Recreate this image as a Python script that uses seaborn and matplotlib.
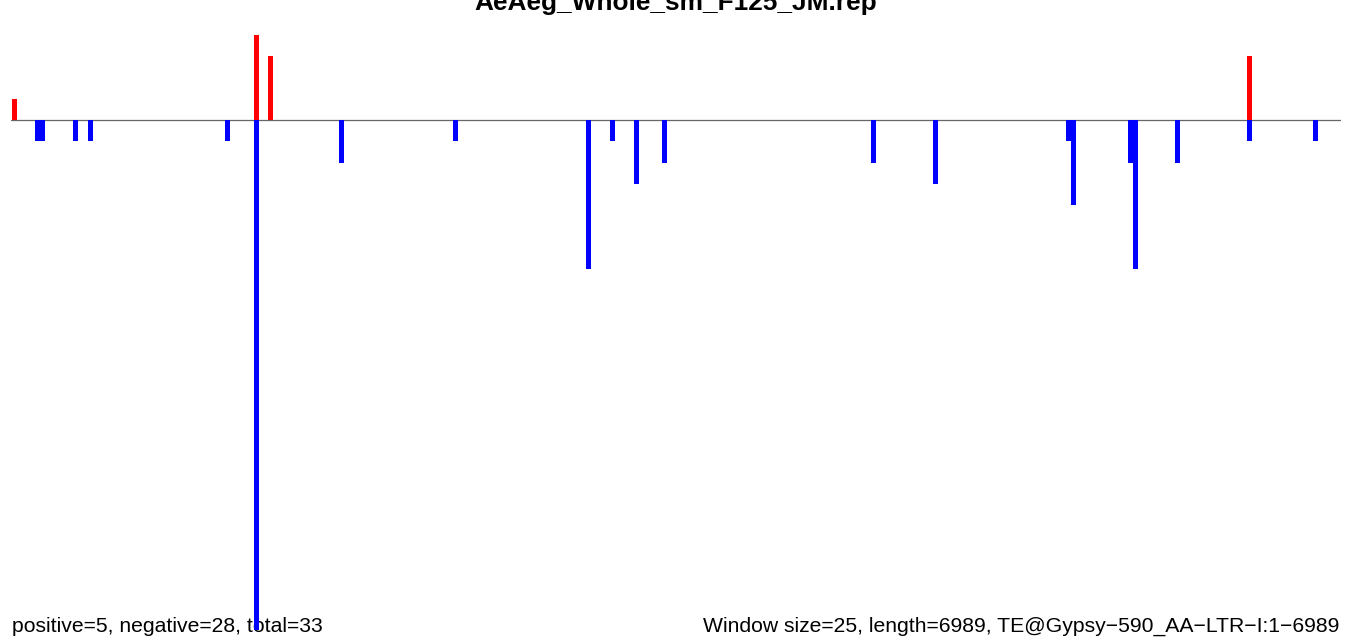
import numpy as np
import pandas as pd
import matplotlib
matplotlib.use("Agg")
import matplotlib.pyplot as plt
import seaborn as sns

# window data (window size 25, length 6989 -> 280 windows)
title = "AeAeg_Whole_sm_F125_JM.rep"
n_windows = 280
pos_windows = [0, 51, 54, 260]
pos_values = [1, 4, 3, 3]
neg_windows = [5, 6, 13, 16, 45, 51, 69, 93, 121, 126, 131, 137,
               181, 194, 222, 223, 235, 236, 245, 260, 274]
neg_values = [1, 1, 1, 1, 1, 24, 2, 1, 7, 1, 3, 2,
              2, 3, 1, 4, 2, 7, 2, 1, 1]
left_note = "positive=5, negative=28, total=33"
right_note = "Window size=25, length=6989, TE@Gypsy\u2212590_AA\u2212LTR\u2212I:1\u22126989"

pos = np.zeros(n_windows)
neg = np.zeros(n_windows)
pos[pos_windows] = pos_values
neg[neg_windows] = neg_values
df = pd.DataFrame({"win": np.arange(n_windows) + 0.5, "pos": pos, "neg": -neg})

sns.set_style("white")
plt.rcParams['font.family'] = ['Liberation Sans', 'DejaVu Sans']

W, H = 1360, 644
fig = plt.figure(figsize=(W / 100, H / 100), dpi=100)
ax = fig.add_axes([11 / W, 0, 1330 / W, 1])

unit = 21.25  # px per count
sns.barplot(data=df, x="win", y="pos", native_scale=True, width=1.05,
            color="#ff0000", saturation=1, linewidth=0, errorbar=None,
            ax=ax, zorder=3)
sns.barplot(data=df, x="win", y="neg", native_scale=True, width=1.05,
            color="#0000ff", saturation=1, linewidth=0, errorbar=None,
            ax=ax, zorder=3)
ax.axhline(0, color="#666666", lw=0.9, zorder=2)

# small shift so bars sit where the original ones do
ax.set_xlim(-0.15, n_windows - 0.15)
ax.set_ylim(-(H - 120) / unit, 120 / unit)
ax.set_axis_off()

ax.text(676 / W, (H - 10) / H, title, transform=fig.transFigure, color="black",
        ha="center", va="baseline", fontsize=18.9, fontweight="bold", zorder=1)
ax.text(12 / W, 12 / H, left_note, transform=fig.transFigure, color="black",
        ha="left", va="baseline", fontsize=15.2, zorder=1)
ax.text(1339 / W, 12 / H, right_note, transform=fig.transFigure, color="black",
        ha="right", va="baseline", fontsize=15.2, zorder=1)

fig.savefig("out.png", dpi=100)
